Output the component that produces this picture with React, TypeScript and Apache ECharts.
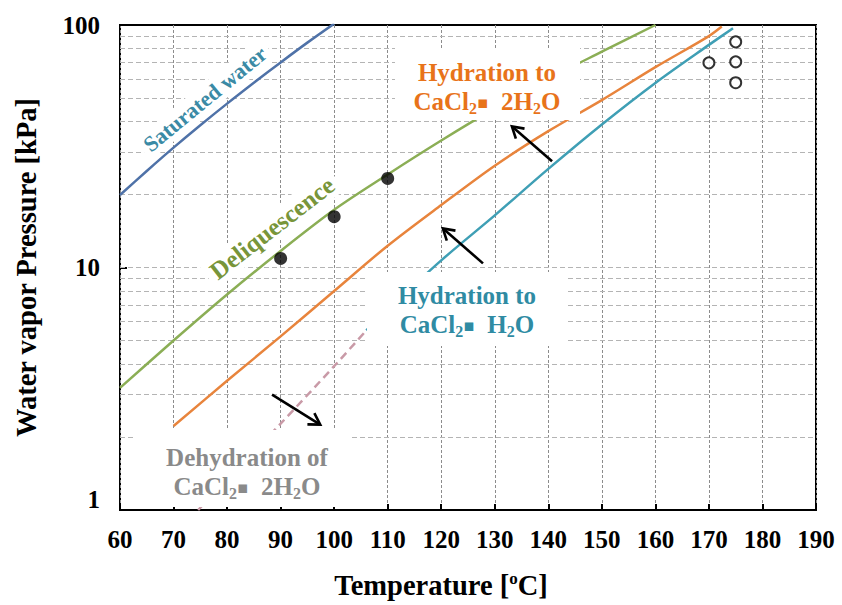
import React, { useEffect, useRef } from "react";
import * as echarts from "echarts";

const FONT = '"Liberation Serif", "Times New Roman", Times, serif';

// Saturated water vapour pressure [kPa]
const satWaterTemp = [60, 65, 70, 75, 80, 85, 90, 95, 100];
const satWaterP = [19.9, 25.0, 31.2, 38.6, 47.4, 57.8, 70.1, 84.6, 101.3];

// Deliquescence of CaCl2
const deliqTemp = [60, 70, 80, 90, 100, 110, 120, 130, 140, 150, 160];
const deliqP = [3.19, 5.0, 7.74, 11.7, 17.3, 24.2, 33.4, 45.3, 60, 77.6, 100];

// Hydration to CaCl2·2H2O
const hyd2Temp = [70, 80, 90, 100, 110, 120, 130, 140, 150, 160, 170, 172.4];
const hyd2P = [2.22, 3.41, 5.2, 8.0, 12.3, 18.1, 26.3, 36.5, 49, 67, 90, 98.5];

// Hydration to CaCl2·H2O
const hyd1Temp = [106, 110, 120, 130, 140, 150, 160, 170, 174.5];
const hyd1P = [5.5, 6.7, 10.7, 16.4, 25.5, 38.9, 57.7, 82.8, 97];

// Dehydration of CaCl2·2H2O
const dehydTemp = [74.6, 80, 90, 100, 106];
const dehydP = [1.0, 1.34, 2.27, 3.92, 5.5];

// Measured points
const filledTemp = [90, 100, 110];
const filledP = [10.9, 16.2, 23.3];
const openTemp = [170, 175, 175, 175];
const openP = [69.8, 85.2, 70.5, 57.8];

// Pressure grid lines on the log axis
const pressureGrid = [2, 3, 4, 5, 6, 7, 8, 9, 10, 20, 30, 40, 50, 60, 70, 80, 90];

// Arrow annotations: [tail T, tail P, head T, head P]
const arrows = [
  [140.7, 27.4, 133.2, 38.2],
  [127.8, 10.4, 120.3, 14.5],
  [88.4, 2.99, 97.4, 2.25],
];

const pairs = (t: number[], p: number[]) => t.map((v, i) => [v, p[i]]);

const BLUE = "#4f72a8";
const GREEN = "#8bae55";
const ORANGE = "#e8843c";
const TEAL = "#3f9fb5";
const PINK = "#c99aa7";

function chemRich(color: string) {
  return {
    n: { fill: color, fontFamily: FONT, fontWeight: "bold", fontSize: 25, lineHeight: 29 },
    s: { fill: color, fontFamily: FONT, fontWeight: "bold", fontSize: 16, lineHeight: 12, verticalAlign: "bottom" },
    d: { fill: color, fontFamily: '"DejaVu Sans", sans-serif', fontSize: 17, lineHeight: 29 },
  };
}

export default function App() {
  const ref = useRef<HTMLDivElement>(null);

  useEffect(() => {
    const chart = echarts.init(ref.current!, null, { renderer: "svg" });
    const curve = (name: string, t: number[], p: number[], color: string, dashed = false) => ({
      name,
      type: "line",
      data: pairs(t, p),
      showSymbol: false,
      symbol: "none",
      smooth: 0.3,
      z: 3,
      lineStyle: { color, width: 2.5, type: dashed ? [8, 5] : "solid" },
    });

    chart.setOption({
      animation: false,
      backgroundColor: "#fff",
      grid: {
        left: 120,
        top: 25,
        right: 26,
        bottom: 92,
        show: true,
        borderColor: "#000",
        borderWidth: 2,
        backgroundColor: "#fff",
      },
      xAxis: {
        type: "value",
        min: 60,
        max: 190,
        interval: 10,
        axisLine: { show: false },
        axisTick: { show: true, inside: true, length: 6, lineStyle: { color: "#000", width: 2 } },
        axisLabel: { color: "#000", fontFamily: FONT, fontWeight: "bold", fontSize: 25, margin: 17 },
        splitLine: { show: true, lineStyle: { color: "#8c8c8c", type: [3, 2], width: 1 } },
        name: "Temperature [{sup|o}C]",
        nameLocation: "middle",
        nameGap: 60,
        nameTextStyle: {
          color: "#000",
          fontFamily: FONT,
          fontWeight: "bold",
          fontSize: 28.5,
          lineHeight: 30,
          padding: [0, 54, 0, 0],
          rich: {
            sup: { color: "#000", fontFamily: FONT, fontWeight: "bold", fontSize: 17, lineHeight: 14, verticalAlign: "top" },
          },
        },
      },
      yAxis: {
        type: "log",
        logBase: 10,
        min: 1,
        max: 100,
        axisLine: { show: false },
        axisTick: { show: true, inside: true, length: 7, lineStyle: { color: "#000", width: 2 } },
        axisLabel: {
          color: "#000",
          fontFamily: FONT,
          fontWeight: "bold",
          fontSize: 25,
          margin: 20,
          formatter: (v: number) => (v === 1 ? "{low|1}" : String(v)),
          rich: { low: { fontFamily: FONT, fontWeight: "bold", fontSize: 25, color: "#000", padding: [0, 0, 22, 0] } },
        },
        splitLine: { show: false },
        name: "Water vapor Pressure [kPa]",
        nameLocation: "middle",
        nameGap: 79,
        nameTextStyle: { color: "#000", fontFamily: FONT, fontWeight: "bold", fontSize: 28.5, lineHeight: 30 },
      },
      series: [
        {
          type: "line",
          data: [],
          silent: true,
          z: 1,
          markLine: {
            silent: true,
            z: 1,
            symbol: ["none", "none"],
            label: { show: false },
            lineStyle: { color: "#b4b4b4", type: [5, 3], width: 1 },
            data: pressureGrid.map((v) => ({ yAxis: v })),
          },
        },
        curve("Saturated water", satWaterTemp, satWaterP, BLUE),
        curve("Deliquescence", deliqTemp, deliqP, GREEN),
        curve("Hydration to CaCl2·2H2O", hyd2Temp, hyd2P, ORANGE),
        curve("Hydration to CaCl2·H2O", hyd1Temp, hyd1P, TEAL),
        curve("Dehydration of CaCl2·2H2O", dehydTemp, dehydP, PINK, true),
        {
          type: "scatter",
          data: pairs(filledTemp, filledP),
          symbol: "circle",
          symbolSize: 13,
          z: 60,
          itemStyle: { color: "#000" },
        },
        {
          type: "scatter",
          data: pairs(openTemp, openP),
          symbol: "circle",
          symbolSize: 11,
          z: 60,
          itemStyle: { color: "#fff", borderColor: "#000", borderWidth: 2 },
        },
      ],
    });

    const px = (t: number, p: number) => chart.convertToPixel({ gridIndex: 0 }, [t, p]) as number[];

    const arrowEls: any[] = [];
    arrows.forEach(([t1, p1, t2, p2]) => {
      const a = px(t1, p1);
      const b = px(t2, p2);
      const dx = b[0] - a[0];
      const dy = b[1] - a[1];
      const len = Math.hypot(dx, dy);
      const ux = dx / len;
      const uy = dy / len;
      const s = 11;
      const w = 0.6;
      const bx = b[0] - ux * s;
      const by = b[1] - uy * s;
      arrowEls.push({
        type: "line",
        z: 55,
        shape: { x1: a[0], y1: a[1], x2: b[0] - ux, y2: b[1] - uy },
        style: { stroke: "#000", lineWidth: 2.6 },
      });
      arrowEls.push({
        type: "polyline",
        z: 55,
        shape: {
          points: [
            [bx - uy * s * w, by + ux * s * w],
            [b[0], b[1]],
            [bx + uy * s * w, by - ux * s * w],
          ],
        },
        style: { stroke: "#000", lineWidth: 2.6, fill: null },
      });
    });

    const box = (x: number, y: number, w: number, h: number) => ({
      type: "rect",
      z: 50,
      shape: { x, y, width: w, height: h },
      style: { fill: "#fff", stroke: null },
    });

    const chemLabel = (x: number, y: number, color: string, first: string, formula: string) => ({
      type: "text",
      z: 51,
      x,
      y,
      style: {
        text: `{n|${first}}\n${formula}`,
        rich: chemRich(color),
        align: "center",
        verticalAlign: "middle",
      },
    });

    const deg = Math.PI / 180;

    chart.setOption({
      graphic: [
        box(395, 48, 185, 72),
        chemLabel(487, 87, "#e8731a", "Hydration to", "{n|CaCl}{s|2}{d|▪}{n|  2H}{s|2}{n|O}"),
        box(367, 272, 200, 74),
        chemLabel(467, 310, "#2f8ba3", "Hydration to", "{n|CaCl}{s|2}{d|▪}{n|  H}{s|2}{n|O}"),
        box(133, 430, 217, 77),
        chemLabel(247, 472, "#8a8a8a", "Dehydration of", "{n|CaCl}{s|2}{d|▪}{n|  2H}{s|2}{n|O}"),
        {
          type: "text",
          z: 51,
          x: 205,
          y: 99,
          rotation: 39.4 * deg,
          style: {
            text: "Saturated water",
            fill: "#3a8aa5",
            font: `bold 22px ${FONT}`,
            align: "center",
            verticalAlign: "middle",
            backgroundColor: "#fff",
            padding: [2, 5],
          },
        },
        {
          type: "text",
          z: 51,
          x: 272,
          y: 228,
          rotation: 37.8 * deg,
          style: {
            text: "Deliquescence",
            fill: "#78953a",
            font: `bold 25px ${FONT}`,
            align: "center",
            verticalAlign: "middle",
            backgroundColor: "#fff",
            padding: [2, 6],
          },
        },
        ...arrowEls,
      ],
    });

    return () => chart.dispose();
  }, []);

  return (
    <div
      ref={ref}
      style={{ position: "absolute", left: 0, top: 0, width: 842, height: 605, background: "#fff" }}
    />
  );
}
